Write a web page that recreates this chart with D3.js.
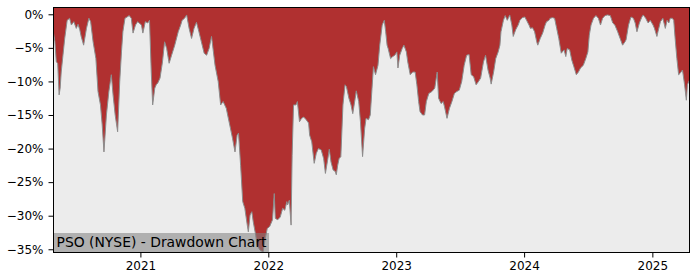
<!DOCTYPE html>
<html>
<head>
<meta charset="utf-8">
<script src="https://cdnjs.cloudflare.com/ajax/libs/d3/7.8.5/d3.min.js"></script>
<style>
  body { margin: 0; background: #fff; }
  text { font-family: "DejaVu Sans", sans-serif; }
</style>
</head>
<body>
<div id="chart"></div>
<script>
// drawdown values (%)
var dates = [
  "2020-04-28","2020-05-02","2020-05-06","2020-05-10","2020-05-14","2020-05-17","2020-05-20","2020-05-25","2020-05-30",
  "2020-06-06","2020-06-13","2020-06-18","2020-06-25","2020-07-02","2020-07-07","2020-07-12","2020-07-16","2020-07-23",
  "2020-07-31","2020-08-07","2020-08-12","2020-08-19","2020-08-27","2020-09-02","2020-09-09","2020-09-14","2020-09-19",
  "2020-09-26","2020-10-03","2020-10-10","2020-10-15","2020-10-21","2020-10-28","2020-11-03","2020-11-08","2020-11-12",
  "2020-11-18","2020-11-24","2020-11-30","2020-12-06","2020-12-11","2020-12-18","2020-12-24",
  "2021-01-04","2021-01-08","2021-01-15","2021-01-22","2021-01-27","2021-02-01","2021-02-05","2021-02-11","2021-02-16",
  "2021-02-19","2021-02-26","2021-03-05","2021-03-11","2021-03-17","2021-03-24","2021-03-31","2021-04-09","2021-04-19",
  "2021-04-26","2021-04-30","2021-05-07","2021-05-13","2021-05-20","2021-05-27","2021-06-03","2021-06-10","2021-06-17",
  "2021-06-24","2021-07-02","2021-07-09","2021-07-16","2021-07-23","2021-08-02","2021-08-11","2021-08-18","2021-08-25",
  "2021-09-03","2021-09-13","2021-09-21","2021-09-28","2021-10-04","2021-10-08","2021-10-14","2021-10-20","2021-10-26",
  "2021-11-02","2021-11-05","2021-11-10","2021-11-15","2021-11-19","2021-11-26","2021-11-30","2021-12-08","2021-12-17",
  "2021-12-23","2021-12-29",
  "2022-01-05","2022-01-13","2022-01-18","2022-01-21","2022-01-28","2022-02-04","2022-02-11","2022-02-17","2022-02-23",
  "2022-02-25","2022-03-02","2022-03-07","2022-03-10","2022-03-14","2022-03-21","2022-03-25","2022-03-31","2022-04-06",
  "2022-04-12","2022-04-19","2022-04-26","2022-04-29","2022-05-05","2022-05-12","2022-05-18","2022-05-24","2022-06-01",
  "2022-06-08","2022-06-13","2022-06-20","2022-06-24","2022-06-29","2022-07-05","2022-07-11","2022-07-14","2022-07-18",
  "2022-07-22","2022-07-27","2022-08-02","2022-08-08","2022-08-12","2022-08-19","2022-08-25","2022-08-30","2022-09-06",
  "2022-09-09","2022-09-16","2022-09-21","2022-09-27","2022-10-03","2022-10-07","2022-10-14","2022-10-19","2022-10-24",
  "2022-10-28","2022-11-03","2022-11-10","2022-11-15","2022-11-22","2022-11-28","2022-12-02","2022-12-06","2022-12-09",
  "2022-12-16","2022-12-22","2022-12-28",
  "2023-01-03","2023-01-06","2023-01-11","2023-01-18","2023-01-23","2023-01-30","2023-02-03","2023-02-10","2023-02-17",
  "2023-02-24","2023-03-01","2023-03-06","2023-03-10","2023-03-17","2023-03-23","2023-03-28","2023-04-04","2023-04-13",
  "2023-04-21","2023-04-28","2023-05-02","2023-05-09","2023-05-15","2023-05-19","2023-05-26","2023-06-02","2023-06-09",
  "2023-06-16","2023-06-23","2023-06-30","2023-07-07","2023-07-14","2023-07-21","2023-07-28","2023-08-03","2023-08-10",
  "2023-08-17","2023-08-24","2023-08-30","2023-09-07","2023-09-13","2023-09-20","2023-09-26","2023-09-29","2023-10-06",
  "2023-10-12","2023-10-19","2023-10-24","2023-10-27","2023-11-03","2023-11-08","2023-11-14","2023-11-21","2023-11-27",
  "2023-12-01","2023-12-08","2023-12-15","2023-12-20","2023-12-27",
  "2024-01-03","2024-01-08","2024-01-15","2024-01-19","2024-01-25","2024-01-31","2024-02-06","2024-02-09","2024-02-16",
  "2024-02-23","2024-03-01","2024-03-05","2024-03-12","2024-03-15","2024-03-22","2024-03-28","2024-04-03","2024-04-09",
  "2024-04-16","2024-04-24","2024-04-29","2024-05-03","2024-05-10","2024-05-16","2024-05-22","2024-05-29","2024-06-04",
  "2024-06-10","2024-06-18","2024-06-25","2024-07-01","2024-07-05","2024-07-10","2024-07-17","2024-07-24","2024-07-31",
  "2024-08-06","2024-08-12","2024-08-19","2024-08-26","2024-09-03","2024-09-10","2024-09-16","2024-09-24","2024-10-01",
  "2024-10-08","2024-10-15","2024-10-18","2024-10-25","2024-11-01","2024-11-08","2024-11-13","2024-11-18","2024-11-25",
  "2024-12-02","2024-12-06","2024-12-13","2024-12-20","2024-12-26",
  "2025-01-03","2025-01-07","2025-01-14","2025-01-17","2025-01-24","2025-01-31","2025-02-07","2025-02-12","2025-02-17",
  "2025-02-21","2025-02-27","2025-03-03","2025-03-07","2025-03-12","2025-03-17","2025-03-21","2025-03-28","2025-04-03",
  "2025-04-08","2025-04-11","2025-04-17"
];
var drawdown = [
  -2.8,-4.1,-7.1,-7.3,-12.0,-11.0,-8.6,-6.1,-3.6,
  -0.9,-0.6,-1.6,-1.1,-2.1,-1.5,-2.3,-3.3,-4.6,
  -2.1,-0.6,-1.1,-4.1,-6.6,-11.5,-13.5,-16.5,-20.5,
  -15.0,-11.5,-9.0,-12.0,-15.0,-17.5,-10.0,-5.6,-2.6,
  -0.6,-0.4,-0.2,-0.6,-2.8,-1.6,-1.1,
  -1.6,-2.8,-1.1,-1.3,-0.9,-8.6,-13.5,-11.0,-10.4,
  -10.3,-9.5,-7.1,-4.1,-5.1,-7.3,-6.1,-4.6,-2.6,
  -1.6,-0.9,-0.6,-0.1,-2.1,-3.6,-2.1,-1.2,-2.6,
  -4.1,-5.8,-6.1,-5.1,-3.3,-7.6,-10.0,-13.5,-13.0,
  -14.0,-16.5,-18.5,-20.5,-18.0,-17.7,-22.5,-27.9,-28.9,
  -31.4,-32.4,-29.9,-29.4,-30.9,-32.9,-34.4,-35.1,-35.4,
  -33.5,-31.9,
  -31.6,-30.6,-26.7,-30.4,-30.6,-30.2,-28.9,-29.2,-27.9,
  -28.4,-27.7,-31.4,-21.0,-13.5,-13.5,-13.0,-16.0,-15.5,
  -15.3,-15.7,-16.2,-18.0,-19.0,-22.2,-20.7,-20.0,-20.2,
  -21.5,-23.7,-21.5,-20.1,-22.0,-23.2,-23.4,-23.9,-22.5,
  -21.5,-21.2,-13.5,-10.5,-10.8,-12.5,-13.5,-14.8,-12.5,
  -11.4,-13.0,-16.0,-21.2,-17.0,-15.5,-15.7,-15.0,-11.0,
  -7.8,-9.0,-7.6,-4.6,-1.6,-0.9,-2.6,-4.6,-5.1,
  -6.6,-6.3,-6.1,
  -5.6,-8.0,-6.1,-5.1,-4.6,-5.6,-7.1,-9.0,-8.6,
  -8.6,-10.5,-13.0,-14.5,-15.0,-15.0,-13.0,-11.8,-11.5,
  -11.0,-8.6,-12.5,-13.3,-13.0,-13.8,-15.5,-14.0,-13.0,
  -11.8,-11.5,-11.3,-10.0,-7.6,-6.1,-6.0,-9.0,-9.3,
  -10.5,-10.0,-9.5,-7.1,-6.1,-8.3,-9.5,-10.4,-8.6,
  -6.6,-5.6,-4.6,-2.6,-0.9,-0.2,-0.9,-0.1,-1.6,
  -3.3,-2.3,-1.6,-0.9,-0.5,
  -0.4,-0.9,-1.6,-2.1,-2.0,-2.6,-4.1,-4.6,-3.6,
  -2.8,-1.6,-1.1,-0.9,-0.6,-0.5,-0.6,-2.1,-3.6,
  -5.8,-5.3,-6.3,-5.1,-5.3,-6.8,-7.8,-9.0,-8.6,
  -8.0,-7.6,-6.6,-5.6,-3.1,-1.6,-0.6,-0.2,-0.6,
  -1.6,-0.6,-0.2,-0.1,-0.2,-1.3,-1.6,-2.6,-3.6,
  -4.6,-4.1,-3.8,-1.6,-0.4,-0.6,-1.3,-2.6,-1.3,
  -0.4,-0.1,-0.6,-1.3,-0.9,
  -1.6,-2.1,-3.3,-2.6,-1.1,-0.6,-2.1,-0.9,-1.3,
  -0.6,-0.6,-0.9,-3.6,-6.6,-9.0,-8.8,-8.3,-10.5,
  -12.8,-10.5,-9.8
];
var yTicks = [0, -5, -10, -15, -20, -25, -30, -35];
var yDomain = [-35.48, 1.01];
var title = "PSO (NYSE) - Drawdown Chart";

var width = 700;
var height = 280;
var margin = { top: 7.5, right: 10.5, bottom: 27.5, left: 53.5 };

var parseDate = d3.timeParse("%Y-%m-%d");
var data = dates.map(function (d, i) {
  return { date: parseDate(d), value: drawdown[i] };
});

var x = d3.scaleTime()
  .domain(d3.extent(data, function (d) { return d.date; }))
  .range([margin.left, width - margin.right]);
var y = d3.scaleLinear()
  .domain(yDomain)
  .range([height - margin.bottom, margin.top]);

var svg = d3.select("#chart").append("svg")
  .attr("width", width)
  .attr("height", height);

// plot background
svg.append("rect")
  .attr("x", margin.left).attr("y", margin.top)
  .attr("width", width - margin.left - margin.right)
  .attr("height", height - margin.top - margin.bottom)
  .attr("fill", "#ececec");

// red fill above the drawdown curve
var area = d3.area()
  .x(function (d) { return x(d.date); })
  .y0(margin.top)
  .y1(function (d) { return y(d.value); });

svg.append("path")
  .datum(data)
  .attr("d", area)
  .attr("fill", "#b03030");

var line = d3.line()
  .x(function (d) { return x(d.date); })
  .y(function (d) { return y(d.value); });

svg.append("path")
  .datum(data)
  .attr("d", line)
  .attr("fill", "none")
  .attr("stroke", "#8c8c8c")
  .attr("stroke-width", 1);

// axes
var xAxis = svg.append("g")
  .attr("transform", "translate(0," + (height - margin.bottom) + ")")
  .call(d3.axisBottom(x).ticks(d3.timeYear.every(1)).tickFormat(d3.timeFormat("%Y"))
    .tickSize(5).tickSizeOuter(0).tickPadding(4));
var yAxis = svg.append("g")
  .attr("transform", "translate(" + margin.left + ",0)")
  .call(d3.axisLeft(y).tickValues(yTicks)
    .tickFormat(function (d) { return d3.format("d")(d) + "%"; })
    .tickSize(5).tickSizeOuter(0).tickPadding(5));

[xAxis, yAxis].forEach(function (g) {
  g.select(".domain").remove();
  g.selectAll(".tick line").attr("stroke", "#000");
  g.selectAll(".tick text")
    .attr("fill", "#000")
    .attr("font-size", "12px")
    .attr("font-family", "DejaVu Sans");
});

// label box
var label = svg.append("g");
var labelText = label.append("text")
  .attr("x", margin.left + 3)
  .attr("y", height - margin.bottom - 5.5)
  .attr("font-size", "13.9px")
  .attr("fill", "#000")
  .text(title);
var tw = labelText.node().getComputedTextLength();
label.insert("rect", "text")
  .attr("x", margin.left)
  .attr("y", height - margin.bottom - 19.5)
  .attr("width", tw + 5.5)
  .attr("height", 19.5)
  .attr("fill", "#808080")
  .attr("fill-opacity", 0.55);

// frame
svg.append("rect")
  .attr("x", margin.left).attr("y", margin.top)
  .attr("width", width - margin.left - margin.right)
  .attr("height", height - margin.top - margin.bottom)
  .attr("fill", "none")
  .attr("stroke", "#000")
  .attr("stroke-width", 1);
</script>
</body>
</html>
